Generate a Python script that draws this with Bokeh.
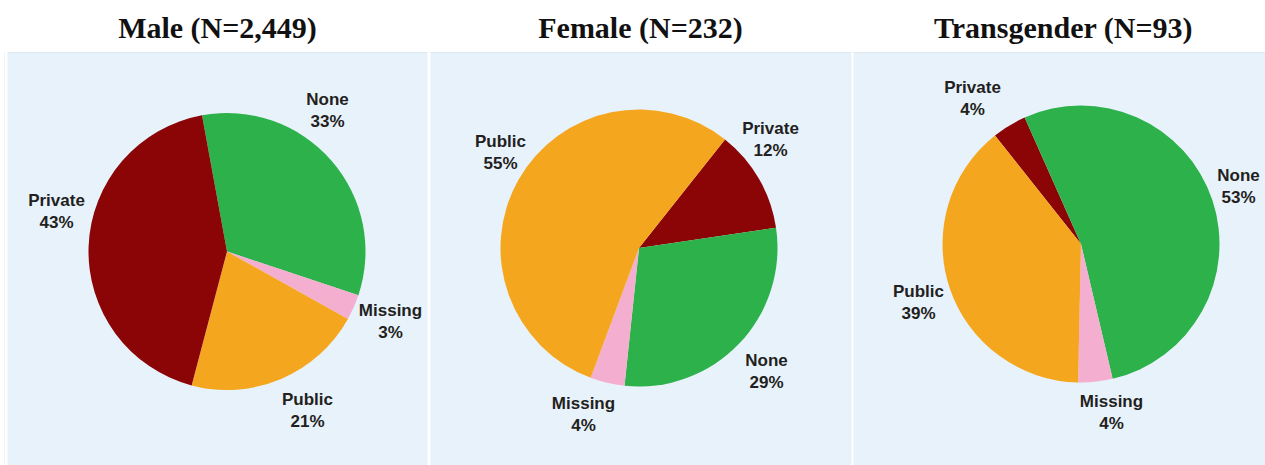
import math
from bokeh.plotting import figure
from bokeh.models import Range1d
from bokeh.core.properties import value
from bokeh.embed import file_html
from bokeh.resources import INLINE

# ---------------- data ----------------
titles = ["Male (N=2,449)", "Female (N=232)", "Transgender (N=93)"]

male_categories = ["None", "Missing", "Public", "Private"]
male_values = [33, 3, 21, 43]

female_categories = ["Private", "None", "Missing", "Public"]
female_values = [12, 29, 4, 55]

trans_categories = ["Private", "None", "Missing", "Public"]
trans_values = [4, 53, 4, 39]

colors = {"None": "#2DB14B", "Missing": "#F4AECF", "Public": "#F5A61F", "Private": "#8B0406"}

# ---------------- layout (screen pixels) ----------------
W, H = 1265, 465
OX, OY = 0, 0


def sx(x):
    return x - OX


def sy(y):
    return H - (y - OY)


panels = [(7, 427), (430, 851), (853, 1265)]
panel_top = 52
centers = [(226.5, 251.0), (638.5, 247.5), (1080.5, 243.5)]
radius = 138.5
start_deg = [-10.4, 38.4, -38.4]  # clockwise from 12 o'clock
title_pos = [(217, 27), (640, 27), (1063, 27)]
label_pos = [
    {"None": (327, 110), "Private": (56, 211), "Missing": (390, 321), "Public": (307, 410)},
    {"Public": (500, 152), "Private": (770, 139), "None": (766, 371), "Missing": (583, 414)},
    {"Private": (972, 98), "None": (1238, 186), "Public": (918, 302), "Missing": (1111, 412)},
]

p = figure(width=W, height=H, output_backend="svg", toolbar_location=None,
           x_range=Range1d(0, W), y_range=Range1d(0, H),
           x_axis_location=None, y_axis_location=None, min_border=0)
p.grid.visible = False
p.outline_line_color = None
p.background_fill_color = "white"
p.border_fill_color = "white"

# panels
p.quad(left=[sx(a) for a, b in panels], right=[sx(b) for a, b in panels],
       top=[sy(panel_top)] * 3, bottom=[0] * 3,
       fill_color="#E8F2FB", line_color=None)
p.segment(x0=[sx(a) for a, b in panels], x1=[sx(b) for a, b in panels],
          y0=[sy(panel_top)] * 3, y1=[sy(panel_top)] * 3,
          line_color="#DCE8F4", line_width=1)
p.segment(x0=[sx(4)], x1=[sx(4)], y0=[sy(panel_top)], y1=[0],
          line_color="#EEF3F8", line_width=1)

label_font = value("Liberation Sans")
charts = [(male_categories, male_values), (female_categories, female_values),
          (trans_categories, trans_values)]

for i, (cats, vals) in enumerate(charts):
    cx, cy = centers[i]
    total = float(sum(vals))
    theta = start_deg[i]
    starts, ends, cols = [], [], []
    for c, v in zip(cats, vals):
        t1 = theta
        t2 = theta + 360.0 * v / total
        # clockwise-from-top -> math angle (anticlockwise from +x)
        starts.append(math.radians(90 - t2))
        ends.append(math.radians(90 - t1))
        cols.append(colors[c])
        theta = t2
    p.wedge(x=[sx(cx)] * len(cats), y=[sy(cy)] * len(cats), radius=radius,
            start_angle=starts, end_angle=ends, fill_color=cols,
            line_color=None)

    # labels
    names, pcts, xs, y1s, y2s = [], [], [], [], []
    for c, v in zip(cats, vals):
        lx, ly = label_pos[i][c]
        names.append(c)
        pcts.append(f"{v}%")
        xs.append(sx(lx))
        y1s.append(sy(ly - 11))
        y2s.append(sy(ly + 11))
    p.text(x=xs, y=y1s, text=names, text_font=label_font, text_font_style="bold",
           text_font_size="17px", text_color="#231F20", text_align="center",
           text_baseline="middle")
    p.text(x=xs, y=y2s, text=pcts, text_font=label_font, text_font_style="bold",
           text_font_size="17px", text_color="#231F20", text_align="center",
           text_baseline="middle")

# titles
p.text(x=[sx(t[0]) for t in title_pos], y=[sy(t[1]) for t in title_pos], text=titles,
       text_font=value("Liberation Serif"), text_font_style="bold",
       text_font_size="30px", text_color="#111111", text_align="center",
       text_baseline="middle")

open("out.html", "w").write(file_html(p, INLINE))
